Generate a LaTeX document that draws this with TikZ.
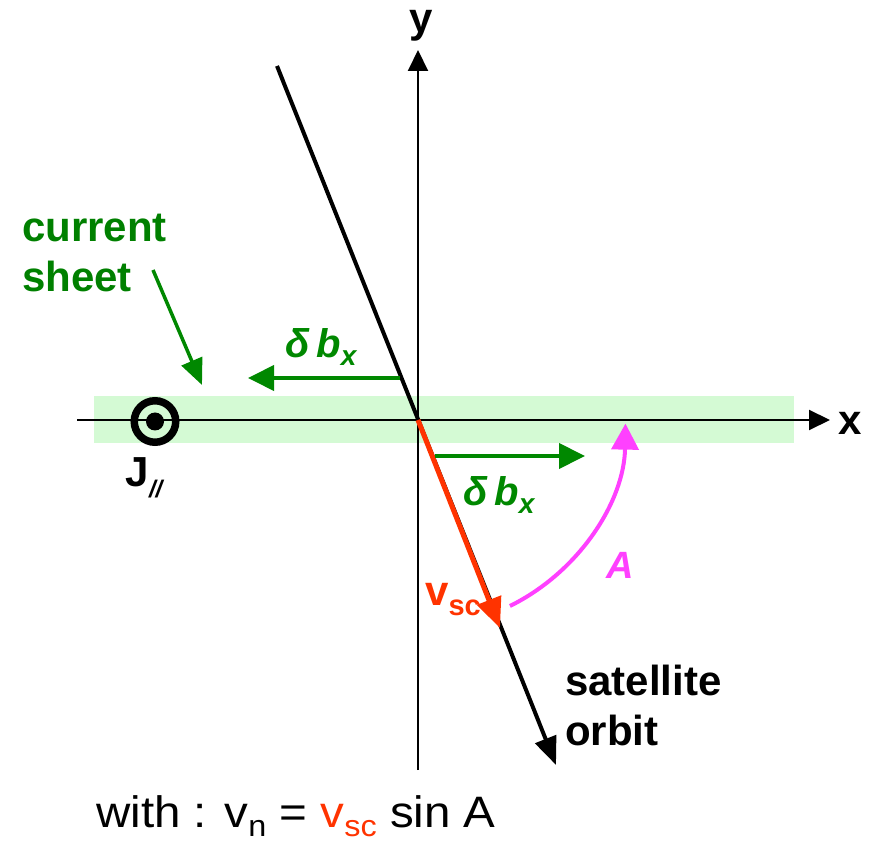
\documentclass[tikz,border=0pt]{standalone}
\usepackage{fontspec}
\setmainfont{Liberation Sans}
\usetikzlibrary{arrows.meta,calc}
\definecolor{cgreen}{RGB}{0,128,0}
\definecolor{agreen}{RGB}{0,136,0}
\definecolor{band}{RGB}{212,250,212}
\definecolor{cred}{RGB}{255,51,0}
\definecolor{cpink}{RGB}{255,64,255}
\begin{document}
\begin{tikzpicture}[x=1pt,y=1pt,
  axis/.style={line width=2pt,-{Triangle[length=21pt,width=20pt]}},
  orbitline/.style={line width=4pt,-{Triangle[length=28pt,width=22pt]}},
  garrow/.style={agreen,line width=4pt,-{Triangle[length=26pt,width=25pt]}},
  rarrow/.style={cred,line width=5pt,-{Triangle[length=30pt,width=25pt]}},
  parrow/.style={cpink,line width=4pt,-{Triangle[length=26pt,width=27pt]}},
  big/.style={font=\fontsize{42}{50}\selectfont\bfseries},
  mid/.style={font=\fontsize{40}{44}\selectfont\bfseries\itshape}]
\useasboundingbox (0,0) rectangle (874,846);
% band
\fill[band] (94,403) rectangle (794,450);
% coordinates
\coordinate (O) at (418,426);
\coordinate (ybot) at (418,76);
\coordinate (ytop) at (418,796);
\coordinate (xl) at (77,426);
\coordinate (xr) at (830,426);
\coordinate (orbS) at (277,780);
\coordinate (orbE) at (556,81);
\coordinate (vtip) at (500,218);
% axes
\draw[axis] (ybot) -- (ytop);
\draw[axis] (xl) -- (xr);
\node[big] (ylab) at (421,820) {y};
\node[big] (xlab) at (850,423) {x};
% orbit
\draw[orbitline] (orbS) -- (orbE);
% velocity
\draw[rarrow] (O) -- (vtip);
% green arrows
\coordinate (g1s) at (400,468);
\coordinate (g1e) at (248,468);
\coordinate (g2s) at (435,390);
\coordinate (g2e) at (585,390);
\draw[garrow] (g1s) -- (g1e);
\draw[garrow] (g2s) -- (g2e);
\node[mid,text=agreen] (db1) at (321,499) {δ\,b\raisebox{-0.35ex}{\fontsize{28}{28}\selectfont x}};
\node[mid,text=agreen] (db2) at (499,351) {δ\,b\raisebox{-0.35ex}{\fontsize{28}{28}\selectfont x}};
% current sheet
\node[big,text=cgreen,anchor=base west,inner sep=0pt] (cur) at (22,604) {current};
\node[big,text=cgreen,anchor=base west,inner sep=0pt] (sht) at (22,554) {sheet};
\coordinate (csS) at (153,576);
\coordinate (csE) at (202,461);
\draw[agreen,line width=3.5pt,-{Triangle[length=26pt,width=22pt]}] (csS) -- (csE);
% J
\coordinate (J) at (155,424.5);
\draw[line width=7.5pt] (J) circle[radius=20.75];
\fill (J) circle[radius=9];
\node[big] (jlab) at (144,368) {J\raisebox{-0.5ex}{\fontsize{24}{24}\selectfont\itshape //}};
% arc A
\coordinate (a1) at ($(O)+(-63.7:207.5)$);
\draw[parrow] (a1) arc[start angle=-63.7, end angle=-1, radius=207.5];
\node[font=\fontsize{38}{40}\selectfont\bfseries\itshape,text=cpink] (alab) at (620,281) {A};
% v_sc label
\node[big,text=cred] (vlab) at (453,246) {v\raisebox{-0.45ex}{\fontsize{29}{29}\selectfont sc}};
% satellite orbit
\node[big,anchor=base west,inner sep=0pt] (sat) at (565,151) {satellite};
\node[big,anchor=base west,inner sep=0pt] (orb) at (565,101) {orbit};
% formula
\node[anchor=base west,inner sep=0pt] (form) at (96,19) {\scalebox{1.08}[1]{\fontsize{44}{50}\selectfont with : v\raisebox{-0.4ex}{\fontsize{30}{30}\selectfont n} = \textcolor{cred}{v\raisebox{-0.4ex}{\fontsize{30}{30}\selectfont sc}} sin A}};
\end{tikzpicture}
\end{document}
